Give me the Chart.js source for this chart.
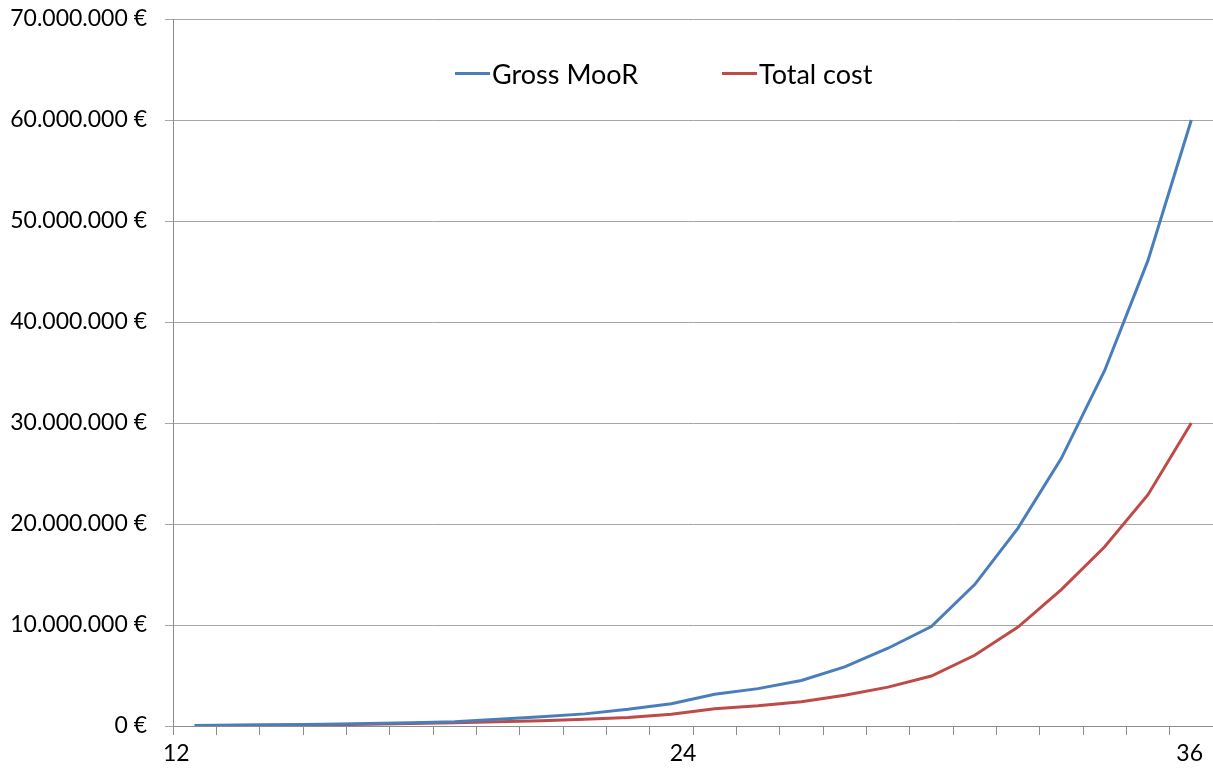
<!DOCTYPE html>
<html>
<head>
<meta charset="utf-8">
<title>Gross MooR vs Total cost</title>
<script src="https://cdn.jsdelivr.net/npm/chart.js@4/dist/chart.umd.min.js"></script>
<style>
  html, body { margin: 0; padding: 0; background: #ffffff; }
  #wrap { position: relative; width: 1213px; height: 773px; }
  #chart { position: absolute; left: 0; top: 0; }
  #legend {
    position: absolute; left: 455px; top: 56px; height: 34px;
    display: flex; align-items: center;
    font-family: Lato, "Liberation Sans", sans-serif; font-size: 27px; color: #000;
  }
  .item { display: flex; align-items: center; }
  .item:first-child { width: 267px; }
  .swatch { width: 35px; height: 3px; margin-right: 2px; }
</style>
</head>
<body>
<div id="wrap">
  <canvas id="chart" width="1213" height="773"></canvas>
  <div id="legend"></div>
</div>
<script>
// Month of the plan (each month is plotted in the middle of its interval)
const months = [13, 14, 15, 16, 17, 18, 19, 20, 21, 22, 23, 24,
                25, 26, 27, 28, 29, 30, 31, 32, 33, 34, 35, 36];

// Gross MooR in euros
const grossMooR = [60000, 90000, 130000, 180000, 240000, 320000, 430000, 660000,
                   920000, 1200000, 1650000, 2200000, 3150000, 3700000, 4500000, 5850000,
                   7700000, 9850000, 14000000, 19600000, 26500000, 35200000, 46100000, 60000000];

// Total cost in euros
const totalCost = [40000, 60000, 90000, 120000, 170000, 240000, 330000, 420000,
                   520000, 660000, 830000, 1160000, 1700000, 2000000, 2400000, 3050000,
                   3850000, 4950000, 7000000, 9800000, 13500000, 17750000, 22900000, 30000000];

// Labelled months on the horizontal axis
const xTickLabels = [12, 24, 36];

// Vertical axis range
const yMin = 0;
const yMax = 70000000;
const yStep = 10000000;

const seriesNames = ['Gross MooR', 'Total cost'];
const seriesColors = ['#4a7ebb', '#be4b48'];

function euro(v) {
  return String(Math.round(v)).replace(/\B(?=(\d{3})+(?!\d))/g, '.') + ' €';
}

function toPoints(values) {
  return months.map((m, i) => ({ x: m - 0.5, y: values[i] }));
}

const FONT = { family: 'Lato', size: 23 };

function build() {
  const datasets = [grossMooR, totalCost].map((vals, i) => ({
    label: seriesNames[i],
    data: toPoints(vals),
    borderColor: seriesColors[i],
    backgroundColor: seriesColors[i],
    borderWidth: 3,
    pointRadius: 0,
    tension: 0,
    fill: false
  }));

  new Chart(document.getElementById('chart'), {
    type: 'line',
    data: { datasets },
    options: {
      responsive: false,
      animation: false,
      layout: { padding: { left: 0, top: 19, right: 0, bottom: 0 } },
      plugins: { legend: { display: false }, tooltip: { enabled: false } },
      scales: {
        x: {
          type: 'linear',
          min: 12,
          max: 36,
          afterFit: (axis) => {
            axis.height = 47;
            axis.paddingLeft = 0;
            axis.paddingRight = 0;
          },
          ticks: {
            stepSize: 1,
            autoSkip: false,
            maxRotation: 0,
            align: 'inner',
            labelOffset: -10,
            padding: 5,
            color: '#000',
            font: FONT,
            callback: (v) => xTickLabels.includes(v) ? String(v) : ''
          },
          grid: {
            drawOnChartArea: false,
            drawTicks: true,
            tickLength: 9,
            color: '#8c8c8c',
            lineWidth: 1
          },
          border: { display: true, color: '#8c8c8c', width: 1 }
        },
        y: {
          type: 'linear',
          min: yMin,
          max: yMax,
          afterFit: (axis) => {
            axis.width = 173;
            axis.paddingTop = 0;
            axis.paddingBottom = 0;
          },
          ticks: {
            stepSize: yStep,
            padding: 18,
            color: '#000',
            font: FONT,
            callback: (v) => euro(v)
          },
          grid: {
            color: '#a6a6a6',
            lineWidth: 1,
            tickLength: 8,
            drawTicks: true
          },
          border: { display: true, color: '#8c8c8c', width: 1 }
        }
      }
    }
  });

  // Legend: a short line in the series colour followed by its name
  const legend = document.getElementById('legend');
  datasets.forEach((ds) => {
    const item = document.createElement('div');
    item.className = 'item';
    const sw = document.createElement('span');
    sw.className = 'swatch';
    sw.style.background = ds.borderColor;
    const txt = document.createElement('span');
    txt.textContent = ds.label;
    item.appendChild(sw);
    item.appendChild(txt);
    legend.appendChild(item);
  });
}

if (document.fonts && document.fonts.load) {
  document.fonts.load('23px Lato').then(build, build);
} else {
  build();
}
</script>
</body>
</html>
